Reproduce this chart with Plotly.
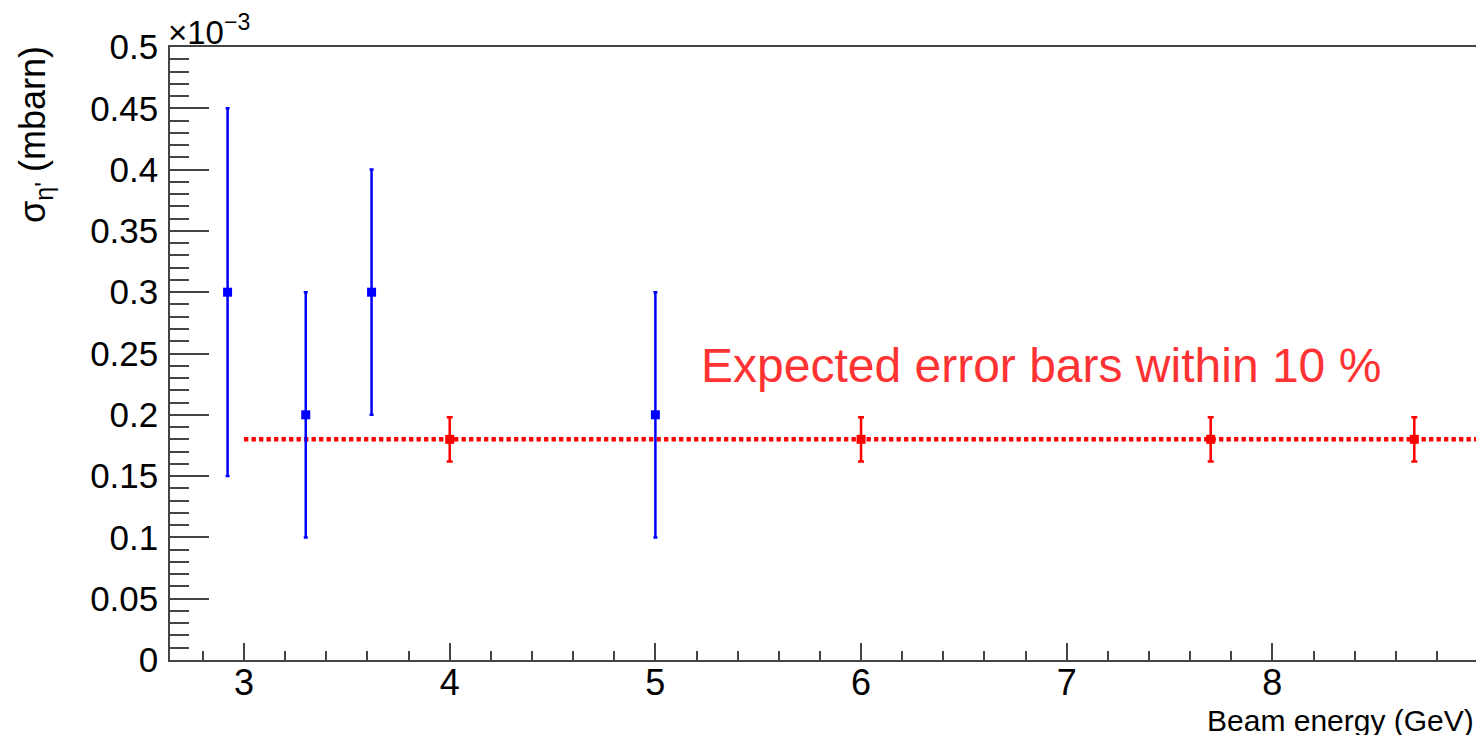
import plotly.graph_objects as go

# Measured data (cross section in units of 1e-3 mbarn)
blue_x = [2.92, 3.30, 3.62, 5.00]
blue_y = [0.30, 0.20, 0.30, 0.20]
blue_err = [0.15, 0.10, 0.10, 0.10]

red_x = [4.0, 6.0, 7.7, 8.69]
red_y = [0.18, 0.18, 0.18, 0.18]
red_err = [0.018, 0.018, 0.018, 0.018]

line_x = [3.0, 8.99]
line_y = [0.18, 0.18]

y_tickvals = [0, 0.05, 0.1, 0.15, 0.2, 0.25, 0.3, 0.35, 0.4, 0.45, 0.5]
y_ticktext = ["0", "0.05", "0.1", "0.15", "0.2", "0.25", "0.3", "0.35", "0.4", "0.45", "0.5"]
x_tickvals = [3, 4, 5, 6, 7, 8]
x_ticktext = ["3", "4", "5", "6", "7", "8"]

x_range = [2.64, 8.99]
y_range = [0, 0.5]

FONT = "Liberation Sans, Arial, sans-serif"

fig = go.Figure()

fig.add_trace(go.Scatter(
    x=line_x, y=line_y, mode="lines",
    line=dict(color="#ff0000", width=4.5, dash="4.3px,3.2px"),
    showlegend=False, hoverinfo="skip"))

fig.add_trace(go.Scatter(
    x=blue_x, y=blue_y, mode="markers",
    marker=dict(symbol="square", size=9, color="#0000ff"),
    error_y=dict(type="data", array=blue_err, color="#0000ff", thickness=2.5, width=2),
    showlegend=False))

fig.add_trace(go.Scatter(
    x=red_x, y=red_y, mode="markers",
    marker=dict(symbol="square", size=9, color="#ff0000"),
    error_y=dict(type="data", array=red_err, color="#ff0000", thickness=2.5, width=3),
    showlegend=False))

fig.add_annotation(
    x=5.21, y=0.2405, xref="x", yref="y", xanchor="left", yanchor="middle",
    text="Expected error bars within 10 %", showarrow=False,
    font=dict(family=FONT, size=48, color="#ff3333"))

fig.add_annotation(
    x=0, y=1, xref="paper", yref="paper", xanchor="left", yanchor="bottom",
    xshift=-4, yshift=-6,
    text="×10<sup>−3</sup>", showarrow=False,
    font=dict(family=FONT, size=33, color="black"))

fig.add_annotation(
    x=0, y=1, xref="paper", yref="paper", xanchor="center", yanchor="middle",
    xshift=-135, yshift=-88, textangle=-90,
    text="σ<sub>η'</sub> (mbarn)", showarrow=False,
    font=dict(family=FONT, size=36, color="black"))

fig.add_annotation(
    x=1, y=0, xref="paper", yref="paper", xanchor="right", yanchor="top",
    yshift=-42, text="Beam energy (GeV)", showarrow=False,
    font=dict(family=FONT, size=30, color="black"))

fig.update_xaxes(
    range=x_range, tickvals=x_tickvals, ticktext=x_ticktext,
    ticks="inside", ticklen=17, tickwidth=1.5, tickcolor="#444",
    minor=dict(ticks="inside", dtick=0.2, ticklen=9, tickwidth=1.5, tickcolor="#444"),
    showline=True, linecolor="#444", linewidth=1.5, mirror=True,
    showgrid=False, zeroline=False,
    tickfont=dict(family=FONT, size=36, color="black"),
    ticklabelstandoff=-10,
)
fig.update_yaxes(
    range=y_range, tickvals=y_tickvals, ticktext=y_ticktext,
    ticks="inside", ticklen=39, tickwidth=1.5, tickcolor="#444",
    minor=dict(ticks="inside", dtick=0.01, ticklen=19, tickwidth=1.5, tickcolor="#444"),
    showline=True, linecolor="#444", linewidth=1.5, mirror=True,
    showgrid=False, zeroline=False,
    tickfont=dict(family=FONT, size=35, color="black"),
    ticklabelstandoff=3,
)

# page body has an 8px margin, so the figure is sized/offset to compensate
fig.update_layout(
    width=1476, height=727,
    margin=dict(l=162, r=8, t=39, b=75, autoexpand=False),
    plot_bgcolor="white", paper_bgcolor="white",
    font=dict(family=FONT),
)

fig.write_html("out.html")
